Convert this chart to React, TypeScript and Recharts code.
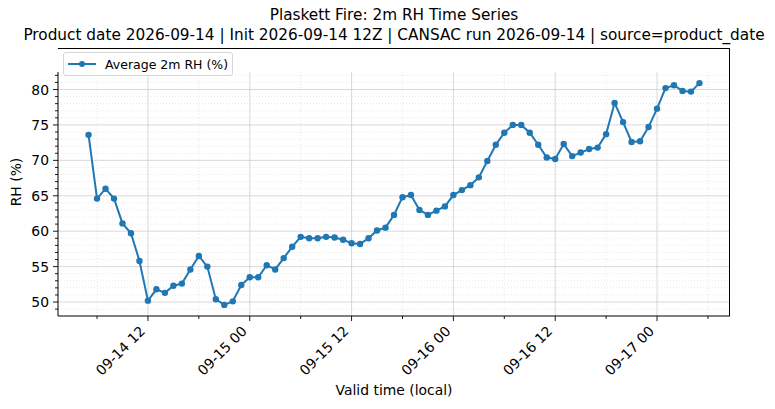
import React from 'react'
import {
  LineChart,
  Line,
  XAxis,
  YAxis,
  CartesianGrid,
  Legend,
} from 'recharts'

// valid times (local), hourly
const validTimes = [
  '09-14 05', '09-14 06', '09-14 07', '09-14 08', '09-14 09', '09-14 10', '09-14 11',
  '09-14 12', '09-14 13', '09-14 14', '09-14 15', '09-14 16', '09-14 17', '09-14 18',
  '09-14 19', '09-14 20', '09-14 21', '09-14 22', '09-14 23',
  '09-15 00', '09-15 01', '09-15 02', '09-15 03', '09-15 04', '09-15 05', '09-15 06',
  '09-15 07', '09-15 08', '09-15 09', '09-15 10', '09-15 11', '09-15 12', '09-15 13',
  '09-15 14', '09-15 15', '09-15 16', '09-15 17', '09-15 18', '09-15 19', '09-15 20',
  '09-15 21', '09-15 22', '09-15 23',
  '09-16 00', '09-16 01', '09-16 02', '09-16 03', '09-16 04', '09-16 05', '09-16 06',
  '09-16 07', '09-16 08', '09-16 09', '09-16 10', '09-16 11', '09-16 12', '09-16 13',
  '09-16 14', '09-16 15', '09-16 16', '09-16 17', '09-16 18', '09-16 19', '09-16 20',
  '09-16 21', '09-16 22', '09-16 23',
  '09-17 00', '09-17 01', '09-17 02', '09-17 03', '09-17 04', '09-17 05',
]

const avgRH = [
  73.6, 64.6, 66.0, 64.6, 61.1, 59.7, 55.8, 50.2, 51.8, 51.3, 52.3, 52.6, 54.6, 56.5,
  55.0, 50.4, 49.6, 50.1, 52.4, 53.5, 53.5, 55.2, 54.6, 56.2, 57.8, 59.2, 59.0, 59.0,
  59.2, 59.1, 58.8, 58.3, 58.2, 59.0, 60.1, 60.5, 62.3, 64.8, 65.1, 63.0, 62.3, 62.9,
  63.5, 65.1, 65.8, 66.5, 67.6, 69.9, 72.2, 73.9, 75.0, 75.0, 73.9, 72.2, 70.4, 70.2,
  72.3, 70.6, 71.1, 71.6, 71.8, 73.7, 78.1, 75.4, 72.6, 72.7, 74.7, 77.3, 80.2, 80.6,
  79.8, 79.7, 80.9,
]

// hours since 09-14 00
const xMajorTicks = [12, 24, 36, 48, 60, 72]
const xMinorTicks = [6, 18, 30, 42, 54, 66, 78]
const yMajorTicks = [50, 55, 60, 65, 70, 75, 80]
const yMinorTicks = [
  49, 51, 52, 53, 54, 56, 57, 58, 59, 61, 62, 63, 64, 66, 67, 68, 69, 71, 72, 73, 74,
  76, 77, 78, 79, 81, 82,
]

const toHours = (s: string) => {
  const day = parseInt(s.slice(3, 5), 10)
  const hour = parseInt(s.slice(6, 8), 10)
  return (day - 14) * 24 + hour
}

const fmtHour = (h: number) => {
  const day = 14 + Math.floor(h / 24)
  const hr = h % 24
  return `09-${String(day).padStart(2, '0')} ${String(hr).padStart(2, '0')}`
}

const data = validTimes.map((t, i) => ({ x: toHours(t), rh: avgRH[i] }))

const FONT = 'DejaVu Sans, sans-serif'
const BLUE = '#1f77b4'

const XTick = (props: any) => {
  const { x, y, payload } = props
  const major = xMajorTicks.includes(payload.value)
  return (
    <g>
      <line x1={x} x2={x} y1={y} y2={y + (major ? 5 : 3)} stroke="#000" strokeWidth={0.9} />
      {major && (
        <text
          x={x - 2}
          y={y + 16}
          textAnchor="end"
          transform={`rotate(-45 ${x - 2} ${y + 16})`}
          fontSize={13.9}
          fontFamily={FONT}
          fill="#000"
        >
          {fmtHour(payload.value)}
        </text>
      )}
    </g>
  )
}

const YTick = (props: any) => {
  const { x, y, payload } = props
  const major = yMajorTicks.includes(payload.value)
  return (
    <g>
      <line x1={x - (major ? 5 : 3)} x2={x} y1={y} y2={y} stroke="#000" strokeWidth={0.9} />
      {major && (
        <text
          x={x - 9}
          y={y}
          dy="0.36em"
          textAnchor="end"
          fontSize={13.9}
          fontFamily={FONT}
          fill="#000"
        >
          {payload.value}
        </text>
      )}
    </g>
  )
}

const LegendBox = () => (
  <div
    style={{
      width: 170,
      height: 24,
      border: '1px solid #d5d5d5',
      borderRadius: 3,
      background: 'rgba(255,255,255,0.85)',
      display: 'flex',
      alignItems: 'center',
      fontFamily: FONT,
      fontSize: 12.5,
      color: '#000',
      boxSizing: 'border-box',
    }}
  >
    <svg width={38} height={12} style={{ marginLeft: 3 }}>
      <line x1={1} x2={29} y1={6} y2={6} stroke={BLUE} strokeWidth={2} />
      <circle cx={15} cy={6} r={3} fill={BLUE} />
    </svg>
    <span>Average 2m RH (%)</span>
  </div>
)

export default function App() {
  return (
    <div style={{ position: 'absolute', left: 0, top: 0, width: 775, height: 409, background: '#fff' }}>
      <div
        style={{
          position: 'absolute',
          left: 0,
          width: 788,
          top: 6,
          textAlign: 'center',
          fontFamily: FONT,
          fontSize: 15.3,
          lineHeight: '19.5px',
          color: '#000',
        }}
      >
        <div>Plaskett Fire: 2m RH Time Series</div>
        <div>Product date 2026-09-14 | Init 2026-09-14 12Z | CANSAC run 2026-09-14 | source=product_date</div>
      </div>
      <LineChart
        width={775}
        height={409}
        data={data}
        margin={{ top: 48, right: 45, bottom: 0, left: 0 }}
      >
        <CartesianGrid
          horizontalValues={yMinorTicks}
          verticalValues={xMinorTicks}
          stroke="#d9d9d9"
          strokeDasharray="1 2"
          strokeWidth={0.6}
        />
        <CartesianGrid
          horizontalValues={yMajorTicks}
          verticalValues={xMajorTicks}
          stroke="#cfcfcf"
          strokeWidth={0.8}
        />
        <XAxis
          dataKey="x"
          type="number"
          domain={[1.4, 80.6]}
          ticks={[...xMinorTicks, ...xMajorTicks].sort((a, b) => a - b)}
          interval={0}
          tick={<XTick />}
          tickLine={false}
          tickSize={0}
          tickMargin={0}
          axisLine={{ stroke: '#000', strokeWidth: 1 }}
          height={93}
          allowDataOverflow
        />
        <YAxis
          type="number"
          domain={[48.03, 82.47]}
          ticks={[...yMinorTicks, ...yMajorTicks].sort((a, b) => a - b)}
          interval={0}
          tick={<YTick />}
          tickLine={false}
          tickSize={0}
          tickMargin={0}
          axisLine={{ stroke: '#000', strokeWidth: 1 }}
          width={58}
          allowDataOverflow
        />
        <Legend
          verticalAlign="top"
          align="left"
          content={<LegendBox />}
          wrapperStyle={{ position: 'absolute', top: 52, left: 63, width: 'auto' }}
        />
        <Line
          type="linear"
          dataKey="rh"
          stroke={BLUE}
          strokeWidth={2}
          dot={{ r: 3.2, fill: BLUE, stroke: BLUE, strokeWidth: 0 }}
          activeDot={false}
          isAnimationActive={false}
        />
      </LineChart>
      {/* top and right spines */}
      <div
        style={{
          position: 'absolute',
          left: 58,
          top: 47.5,
          width: 672,
          height: 268.5,
          borderTop: '1px solid #000',
          borderRight: '1px solid #000',
          boxSizing: 'border-box',
          pointerEvents: 'none',
        }}
      />
      <div
        style={{
          position: 'absolute',
          left: 0,
          width: 788,
          top: 382,
          textAlign: 'center',
          fontFamily: FONT,
          fontSize: 13.9,
          color: '#000',
        }}
      >
        Valid time (local)
      </div>
      <div
        style={{
          position: 'absolute',
          left: 16,
          top: 182,
          transform: 'translate(-50%, -50%) rotate(-90deg)',
          fontFamily: FONT,
          fontSize: 13.9,
          color: '#000',
          whiteSpace: 'nowrap',
        }}
      >
        RH (%)
      </div>
    </div>
  )
}
